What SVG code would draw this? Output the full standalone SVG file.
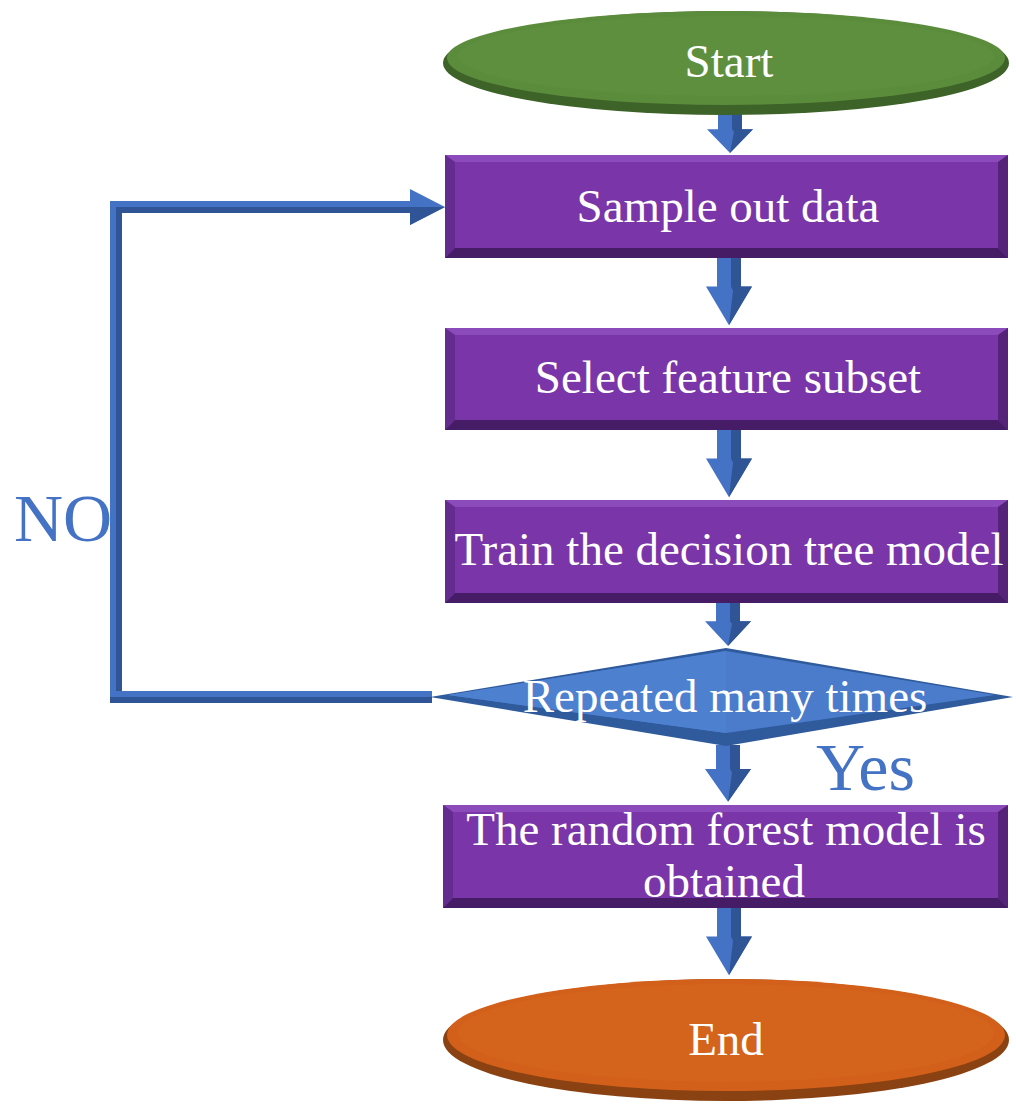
<svg xmlns="http://www.w3.org/2000/svg" width="1016" height="1105" viewBox="0 0 1016 1105">
  <defs>
    <style>
      .label { font-family: "Liberation Serif", "Times New Roman", serif; font-size: 47px; fill: #ffffff; text-anchor: middle; }
      .tag { font-family: "Liberation Serif", "Times New Roman", serif; font-size: 68px; fill: #4472C4; }
      .box-face { fill: #7A35A8; }
      .box-top { fill: #8C4BBA; }
      .box-left { fill: #652C90; }
      .box-right { fill: #55237A; }
      .box-bottom { fill: #461C66; }
      .arrow-light { fill: #4472C4; }
      .arrow-dark { fill: #2F5597; }
    </style>
    <!-- down-pointing block arrow, origin at shaft top centre -->
    <symbol id="down-arrow" overflow="visible">
      <polygon class="arrow-light" points="-12,0 12,0 12,28 23,28 0,66 -23,28 -12,28"/>
      <polygon class="arrow-dark" points="2,0 12,0 12,28 23,28 0,66 4,32 2,28"/>
    </symbol>
  </defs>

  <!-- connectors -->
  <g id="connectors">
    <use href="#down-arrow" transform="translate(730,112) scale(1,0.62)"/>
    <use href="#down-arrow" transform="translate(729,258) scale(1,1.02)"/>
    <use href="#down-arrow" transform="translate(729,430) scale(1,1.02)"/>
    <use href="#down-arrow" transform="translate(728,603) scale(1,0.65)"/>
    <use href="#down-arrow" transform="translate(728,745) scale(1,0.86)"/>
    <use href="#down-arrow" transform="translate(729,908) scale(1,1.02)"/>
    <!-- NO loop back to sampling -->
    <polyline points="432,697 116,697 116,207 414,207" fill="none" stroke="#2F5597" stroke-width="12" stroke-linejoin="miter"/>
    <polyline points="432,694 113,694 113,204 414,204" fill="none" stroke="#4472C4" stroke-width="6" stroke-linejoin="miter"/>
    <polygon points="410,189 445,207 410,225" fill="#4472C4"/>
    <polygon points="410,207 445,207 410,225" fill="#2F5597"/>
  </g>

  <!-- Start -->
  <g id="start">
    <ellipse cx="726" cy="63" rx="283" ry="52" fill="#3D6328"/>
    <ellipse cx="726" cy="58" rx="279" ry="47" fill="#5B8C3C"/>
    <ellipse cx="726" cy="56" rx="268" ry="40" fill="#5E8F3F"/>
    <text class="label" x="729" y="77">Start</text>
  </g>

  <!-- Sample out data -->
  <g id="sample">
    <rect x="445" y="155" width="563" height="103" class="box-face"/>
    <polygon class="box-top" points="445,155 1008,155 998,162 455,162"/>
    <polygon class="box-left" points="445,155 455,162 455,248 445,258"/>
    <polygon class="box-right" points="1008,155 1008,258 998,248 998,162"/>
    <polygon class="box-bottom" points="445,258 455,248 998,248 1008,258"/>
    <text class="label" x="728" y="222">Sample out data</text>
  </g>

  <!-- Select feature subset -->
  <g id="select">
    <rect x="445" y="328" width="563" height="102" class="box-face"/>
    <polygon class="box-top" points="445,328 1008,328 998,335 455,335"/>
    <polygon class="box-left" points="445,328 455,335 455,420 445,430"/>
    <polygon class="box-right" points="1008,328 1008,430 998,420 998,335"/>
    <polygon class="box-bottom" points="445,430 455,420 998,420 1008,430"/>
    <text class="label" x="728" y="393">Select feature subset</text>
  </g>

  <!-- Train the decision tree model -->
  <g id="train">
    <rect x="445" y="500" width="563" height="103" class="box-face"/>
    <polygon class="box-top" points="445,500 1008,500 998,507 455,507"/>
    <polygon class="box-left" points="445,500 455,507 455,593 445,603"/>
    <polygon class="box-right" points="1008,500 1008,603 998,593 998,507"/>
    <polygon class="box-bottom" points="445,603 455,593 998,593 1008,603"/>
    <text class="label" x="729" y="565">Train the decision tree model</text>
  </g>

  <!-- Repeated many times -->
  <g id="decision">
    <polygon points="430,697 726,648 1013,697 726,746" fill="#2F5A9C"/>
    <polygon points="448,695 726,651 995,695 726,733" fill="#4A7CCB"/>
    <polygon points="448,695 726,651 726,733" fill="#4E80D0"/>
    <text class="label" x="725" y="712">Repeated many times</text>
  </g>

  <!-- The random forest model is obtained -->
  <g id="result">
    <rect x="443" y="805" width="565" height="103" class="box-face"/>
    <polygon class="box-top" points="443,805 1008,805 998,812 453,812"/>
    <polygon class="box-left" points="443,805 453,812 453,898 443,908"/>
    <polygon class="box-right" points="1008,805 1008,908 998,898 998,812"/>
    <polygon class="box-bottom" points="443,908 453,898 998,898 1008,908"/>
    <text class="label" x="726" y="845">The random forest model is</text>
    <text class="label" x="724" y="897">obtained</text>
  </g>

  <!-- End -->
  <g id="end">
    <ellipse cx="726" cy="1040" rx="283" ry="61" fill="#8A4212"/>
    <ellipse cx="726" cy="1035" rx="279" ry="56" fill="#D2601A"/>
    <ellipse cx="726" cy="1033" rx="268" ry="49" fill="#D4631C"/>
    <text class="label" x="726" y="1055">End</text>
  </g>

  <!-- branch labels -->
  <text class="tag" x="14" y="541">NO</text>
  <text class="tag" x="816" y="790">Yes</text>
</svg>
